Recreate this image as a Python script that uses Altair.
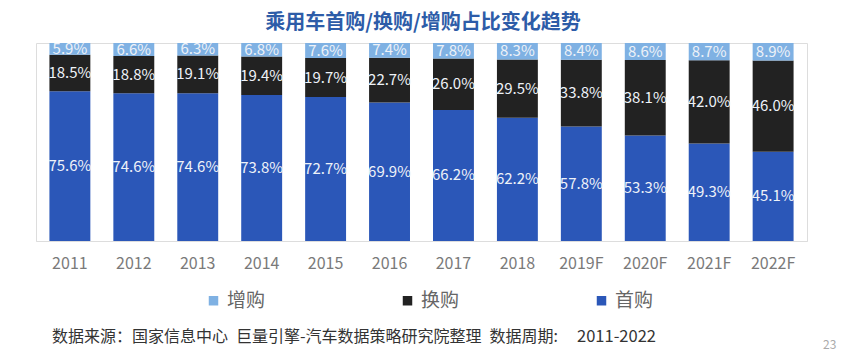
import altair as alt
import pandas as pd

years = ["2011", "2012", "2013", "2014", "2015", "2016", "2017", "2018",
         "2019F", "2020F", "2021F", "2022F"]
first_buy = [75.6, 74.6, 74.6, 73.8, 72.7, 69.9, 66.2, 62.2, 57.8, 53.3, 49.3, 45.1]
replace_buy = [18.5, 18.8, 19.1, 19.4, 19.7, 22.7, 26.0, 29.5, 33.8, 38.1, 42.0, 46.0]
add_buy = [5.9, 6.6, 6.3, 6.8, 7.6, 7.4, 7.8, 8.3, 8.4, 8.6, 8.7, 8.9]

series_names = ["首购", "换购", "增购"]
series_values = [first_buy, replace_buy, add_buy]
legend_order = ["增购", "换购", "首购"]
colors = ["#7fb1e3", "#222222", "#2b57b8"]

title_text = "乘用车首购/换购/增购占比变化趋势"
source_text = "数据来源：国家信息中心\u2002巨量引擎-汽车数据策略研究院整理\u2002数据周期:"
period_text = "2011-2022"
page_no = "23"

rows = []
for k, (name, vals) in enumerate(zip(series_names, series_values)):
    for y, v in zip(years, vals):
        rows.append({"year": y, "cat": name, "value": v, "ord": k})
df = pd.DataFrame(rows)

FONT = "Noto Sans CJK SC"

base = alt.Chart(df).transform_stack(
    stack="value", groupby=["year"], sort=[alt.SortField("ord", order="ascending")],
    as_=["y0", "y1"]
).transform_calculate(
    mid="(datum.y0 + datum.y1) / 2",
    label="format(datum.value, '.1f') + '%'"
)

xenc = alt.X("year:N", sort=years, title=None,
             scale=alt.Scale(paddingInner=0.36, paddingOuter=0.21),
             axis=alt.Axis(labelFontSize=16, labelColor="#7a7a7a", labelFont=FONT,
                           ticks=False, domainColor="#dddddd", domainWidth=1,
                           labelPadding=14, labelAngle=0))
yscale = alt.Scale(domain=[0, 100], nice=False, zero=True)

bars = base.mark_bar().encode(
    x=xenc,
    y=alt.Y("y0:Q", scale=yscale, axis=None),
    y2="y1:Q",
    color=alt.Color("cat:N", scale=alt.Scale(domain=legend_order, range=colors),
                    legend=alt.Legend(title=None, orient="none", legendX=168, legendY=248,
                                      direction="horizontal", symbolType="square",
                                      symbolSize=90, symbolStrokeWidth=0,
                                      labelFontSize=19, labelColor="#666666", labelFont=FONT,
                                      columnPadding=132, labelOffset=4)),
)

labels = base.mark_text(fontSize=15, color="#eef2f8", font=FONT, baseline="middle").encode(
    x=alt.X("year:N", sort=years),
    y=alt.Y("mid:Q", scale=yscale),
    text="label:N",
)

title = alt.Chart(pd.DataFrame({"t": [title_text]})).mark_text(
    align="center", baseline="middle", fontSize=20, fontWeight="bold",
    color="#2d5ca8", font=FONT
).encode(x=alt.value(387), y=alt.value(-20), text="t:N")

note = alt.Chart(pd.DataFrame({"t": [source_text]})).mark_text(
    align="left", baseline="middle", fontSize=16, color="#333333", font=FONT
).encode(x=alt.value(16), y=alt.value(294), text="t:N")

period = alt.Chart(pd.DataFrame({"t": [period_text]})).mark_text(
    align="left", baseline="middle", fontSize=16.5, color="#333333", font=FONT
).encode(x=alt.value(541), y=alt.value(294), text="t:N")

page = alt.Chart(pd.DataFrame({"t": [page_no]})).mark_text(
    align="left", baseline="middle", fontSize=12, color="#aaaaaa", font=FONT
).encode(x=alt.value(787), y=alt.value(302), text="t:N")

chart = alt.layer(bars, labels, title, note, period, page).properties(
    width=771, height=198,
    autosize=alt.AutoSizeParams(type="none"),
    padding={"left": 28, "top": 35, "right": 37, "bottom": 114},
).configure_view(stroke=None).configure(background="white")

chart.save("out.html", embed_options={"renderer": "svg", "actions": False})
